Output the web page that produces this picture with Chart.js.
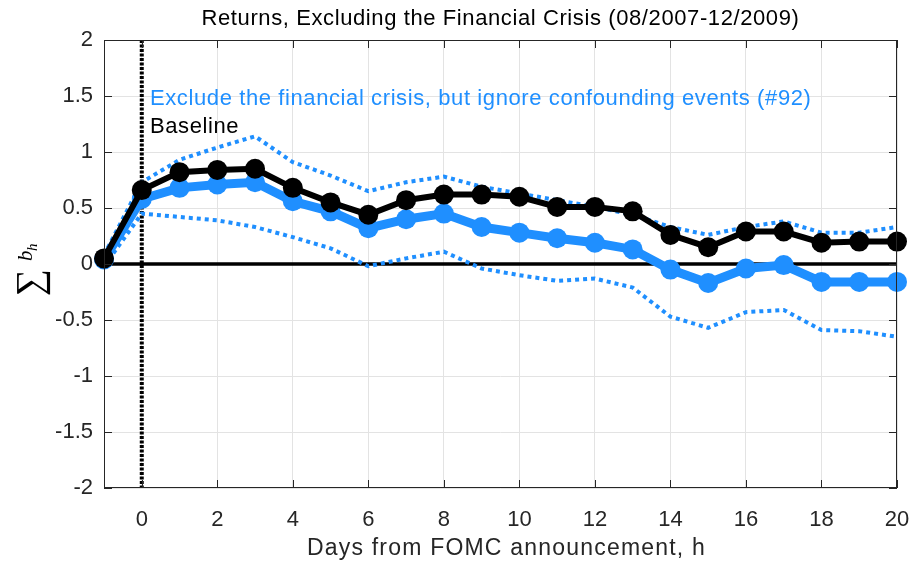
<!DOCTYPE html>
<html>
<head>
    <title>Returns, Excluding the Financial Crisis</title>
    <script src="https://cdn.jsdelivr.net/npm/chart.js"></script>
    <style>
      body { margin: 0; background: #fff; }
    </style>
</head>
<body>
    <canvas id="chart" width="915" height="565"></canvas>

    <script>
    // horizon (days from FOMC announcement)
    const days = [-1, 0, 1, 2, 3, 4, 5, 6, 7, 8, 9, 10, 11, 12, 13, 14, 15, 16, 17, 18, 19, 20];
    const baseline   = [0.05, 0.66, 0.82, 0.84, 0.85, 0.68, 0.55, 0.44, 0.57, 0.62, 0.62, 0.60, 0.51, 0.51, 0.47, 0.26, 0.15, 0.29, 0.29, 0.19, 0.20, 0.20];
    const exclCrisis = [0.04, 0.58, 0.68, 0.71, 0.73, 0.56, 0.47, 0.32, 0.40, 0.45, 0.33, 0.28, 0.23, 0.19, 0.13, -0.05, -0.17, -0.04, -0.01, -0.16, -0.16, -0.16];
    const exclUpper  = [0.08, 0.73, 0.93, 1.04, 1.14, 0.91, 0.79, 0.65, 0.73, 0.78, 0.69, 0.63, 0.57, 0.51, 0.44, 0.33, 0.26, 0.33, 0.38, 0.28, 0.28, 0.33];
    const exclLower  = [-0.02, 0.45, 0.42, 0.39, 0.33, 0.24, 0.14, -0.02, 0.05, 0.11, -0.04, -0.10, -0.15, -0.13, -0.21, -0.47, -0.57, -0.43, -0.41, -0.59, -0.60, -0.65];
    const xTicks = [0, 2, 4, 6, 8, 10, 12, 14, 16, 18, 20];
    const yTicks = [-2, -1.5, -1, -0.5, 0, 0.5, 1, 1.5, 2];

    const BLUE = '#1f8fff';
    const AXIS = '#262626';
    const FONT = '"Liberation Sans", Arial, Helvetica, sans-serif';
    const SERIF = '"Liberation Serif", "Times New Roman", serif';

    const pts = arr => arr.map((v, i) => ({ x: days[i], y: v }));

    // MATLAB-style box, inward ticks, reference lines and texts
    const decorations = {
      id: 'decorations',
      beforeDatasetsDraw(chart) {
        const { ctx, chartArea: a, scales: { x, y } } = chart;
        ctx.save();
        // zero line
        ctx.strokeStyle = '#000';
        ctx.lineWidth = 3.5;
        ctx.beginPath();
        ctx.moveTo(a.left, y.getPixelForValue(0));
        ctx.lineTo(a.right, y.getPixelForValue(0));
        ctx.stroke();
        // announcement day
        ctx.lineWidth = 4;
        ctx.setLineDash([3, 1.5]);
        ctx.beginPath();
        ctx.moveTo(x.getPixelForValue(0), a.top);
        ctx.lineTo(x.getPixelForValue(0), a.bottom);
        ctx.stroke();
        ctx.restore();
      },
      afterDraw(chart) {
        const { ctx, chartArea: a, scales: { x, y } } = chart;
        ctx.save();
        ctx.strokeStyle = AXIS;
        ctx.lineWidth = 1;
        ctx.strokeRect(a.left + 0.5, a.top + 0.5, a.right - a.left - 1, a.bottom - a.top - 1);
        const tl = 8;
        ctx.beginPath();
        xTicks.forEach(v => {
          const px = Math.round(x.getPixelForValue(v)) + 0.5;
          ctx.moveTo(px, a.bottom); ctx.lineTo(px, a.bottom - tl);
          ctx.moveTo(px, a.top); ctx.lineTo(px, a.top + tl);
        });
        yTicks.forEach(v => {
          const py = Math.round(y.getPixelForValue(v)) + 0.5;
          ctx.moveTo(a.left, py); ctx.lineTo(a.left + tl, py);
          ctx.moveTo(a.right, py); ctx.lineTo(a.right - tl, py);
        });
        ctx.stroke();

        // title
        ctx.fillStyle = '#000';
        ctx.letterSpacing = '0.6px';
        ctx.font = '22px ' + FONT;
        ctx.textAlign = 'center';
        ctx.textBaseline = 'middle';
        ctx.fillText('Returns, Excluding the Financial Crisis (08/2007-12/2009)', (a.left + a.right) / 2, 19);

        // x axis title
        ctx.fillStyle = AXIS;
        ctx.letterSpacing = '1.2px';
        ctx.font = '23px ' + FONT;
        ctx.fillText('Days from FOMC announcement, h', (a.left + a.right) / 2 + 6, 549);

        // legend texts
        ctx.textAlign = 'left';
        ctx.letterSpacing = '0.6px';
        ctx.font = '22px ' + FONT;
        ctx.fillStyle = BLUE;
        ctx.fillText('Exclude the financial crisis, but ignore confounding events (#92)', 150, 99);
        ctx.fillStyle = '#000';
        ctx.fillText('Baseline', 150, 127);
        ctx.letterSpacing = '0px';

        // y axis label: sum of b_h
        ctx.translate(28, 265);
        ctx.rotate(-Math.PI / 2);
        ctx.fillStyle = '#000';
        ctx.textAlign = 'left';
        ctx.textBaseline = 'alphabetic';
        ctx.font = '38px ' + SERIF;
        ctx.fillText('\u2211', -31, 14);
        ctx.font = 'italic 21px ' + SERIF;
        ctx.fillText('b', 4, 4);
        ctx.font = 'italic 15px ' + SERIF;
        ctx.fillText('h', 14, 9);
        ctx.restore();
      }
    };

    const ctx = document.getElementById('chart').getContext('2d');
    const chart = new Chart(ctx, {
      type: 'line',
      data: {
        datasets: [
          {
            label: 'Baseline',
            data: pts(baseline),
            borderColor: '#000',
            backgroundColor: '#000',
            borderWidth: 6,
            pointRadius: 10,
            pointBorderWidth: 0,
            clip: false,
            order: 1
          },
          {
            label: 'Exclude the financial crisis, but ignore confounding events (#92)',
            data: pts(exclCrisis),
            borderColor: BLUE,
            backgroundColor: BLUE,
            borderWidth: 9,
            pointRadius: 10,
            pointBorderWidth: 0,
            clip: false,
            order: 2
          },
          {
            label: 'upper',
            data: pts(exclUpper),
            borderColor: BLUE,
            borderWidth: 4,
            borderDash: [4, 4],
            pointRadius: 0,
            order: 3
          },
          {
            label: 'lower',
            data: pts(exclLower),
            borderColor: BLUE,
            borderWidth: 4,
            borderDash: [4, 4],
            pointRadius: 0,
            order: 4
          }
        ]
      },
      options: {
        responsive: false,
        animation: false,
        devicePixelRatio: 1,
        layout: { padding: { top: 40, right: 18, left: 0, bottom: 0 } },
        plugins: {
          legend: { display: false },
          title: { display: false },
          tooltip: { enabled: false }
        },
        scales: {
          x: {
            type: 'linear',
            min: -1,
            max: 20,
            afterBuildTicks: s => { s.ticks = xTicks.map(v => ({ value: v })); },
            afterFit: s => { s.height = 77; s.paddingLeft = 0; s.paddingRight = 0; },
            grid: { color: '#e3e3e3', drawTicks: false },
            border: { display: false },
            ticks: { color: AXIS, font: { size: 22, family: FONT }, padding: 19, maxRotation: 0 }
          },
          y: {
            type: 'linear',
            min: -2,
            max: 2,
            afterBuildTicks: s => { s.ticks = yTicks.map(v => ({ value: v })); },
            afterFit: s => { s.width = 104; s.paddingTop = 0; s.paddingBottom = 0; },
            grid: { color: '#e3e3e3', drawTicks: false },
            border: { display: false },
            ticks: { color: AXIS, font: { size: 22, family: FONT }, padding: 11, callback: v => String(v) }
          }
        }
      },
      plugins: [decorations]
    });
    </script>
</body>
</html>
